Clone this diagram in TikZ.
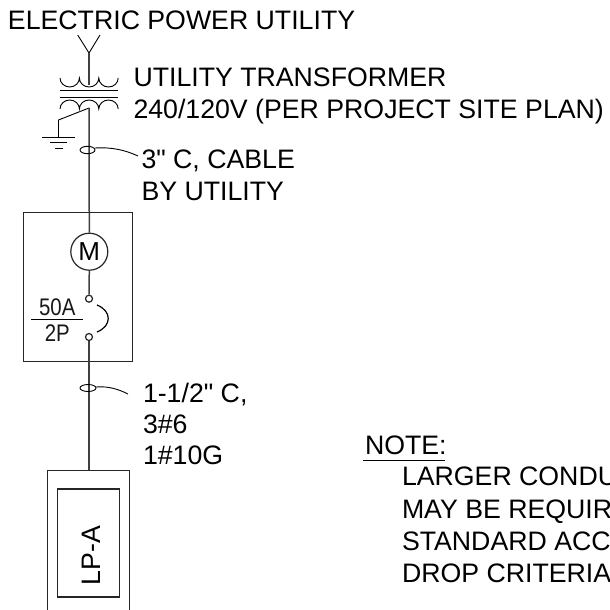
\documentclass[tikz,border=0pt]{standalone}
\usepackage{fontspec}
\setmainfont[Ligatures=TeXOff]{Liberation Sans}
\newcommand{\lbl}{\fontsize{26.7}{30}\selectfont}
\tikzset{
  wire/.style={draw=black!75,line width=1.5pt},
  thin wire/.style={draw=black,line width=0.9pt},
  box/.style={draw=black!85,line width=1.1pt},
  ring/.style={draw=black!85,line width=1.2pt,circle,inner sep=0pt},
  txt/.style={anchor=base west,inner sep=0pt,outer sep=0pt,font=\lbl,text=black},
  frac/.style={anchor=base,inner sep=0pt,font=\fontsize{24}{26}\selectfont,xscale=.85,text=black!90},
}
\begin{document}
\begin{tikzpicture}[x=1pt,y=-1pt]
\useasboundingbox (0,0) rectangle (610,610);
\clip (0,0) rectangle (610,610);
\fill[white] (0,0) rectangle (610,610);
% coordinates
\coordinate (ya) at (77.7,35); \coordinate (yb) at (100,35); \coordinate (yj) at (89,53);
\coordinate (tc) at (89,108);
\coordinate (gk) at (58.5,120); \coordinate (gn) at (58.5,137);
% service
\draw[thin wire] (ya) -- (yj) -- (yb);
\draw[wire] (yj) -- (89,85);
% upper coil
\draw[thin wire] (60,78) arc[start angle=180,end angle=0,x radius=9.7,y radius=9]
  arc[start angle=180,end angle=0,x radius=9.7,y radius=9]
  arc[start angle=180,end angle=0,x radius=9.7,y radius=9];
\draw[thin wire] (60,90.5) -- (118,90.5);
\draw[thin wire] (60,97) -- (118,97);
% lower coil
\draw[thin wire] (60,109) arc[start angle=180,end angle=360,x radius=9.7,y radius=9]
  arc[start angle=180,end angle=360,x radius=9.7,y radius=9]
  arc[start angle=180,end angle=360,x radius=9.7,y radius=9];
% ground
\draw[thin wire] (tc) -- (gk) -- (gn);
\draw[thin wire] (42,137) -- (75,137);
\draw[thin wire] (50,142.5) -- (67,142.5);
\draw[thin wire] (55,148) -- (63,148);
% main wire
\node[ring,minimum size=37pt,font=\fontsize{26}{28}\selectfont] (m) at (89.3,251.7) {M};
\node[ring,minimum size=7pt] (c1) at (89,298.7) {};
\node[ring,minimum size=7pt] (c2) at (89,337) {};
\draw[wire] (tc) -- (m.north);
\draw[wire] (m.south) -- (c1.north);
% breaker box
\draw[box] (23.5,212.7) rectangle (132.5,361.7);
\draw[wire] (c2.south) -- (89,470.7);
\draw[draw=black,line width=1.2pt] (97,305) .. controls (112,311) and (112,326) .. (97,332);
\draw[thin wire] (31,319) -- (83,319);
\node[frac] (fa) at (57.3,315) {50A};
\node[frac] (fb) at (57.3,341.7) {2P};
% cable marks
\draw[thin wire] (87.5,150) ellipse[x radius=7.5,y radius=3.7];
\draw[thin wire] (95,148) .. controls (112,147) and (125,150) .. (138,156);
\draw[thin wire] (88,388) ellipse[x radius=8,y radius=3.5];
\draw[thin wire] (96,387) .. controls (108,386) and (118,389) .. (128,394);
% panel
\draw[box] (47.3,612) -- (47.3,470.7) -- (129.7,470.7) -- (129.7,612);
\draw[box] (57.3,489) rectangle (119.7,597);
\node[rotate=90,anchor=base,inner sep=0pt,font=\lbl,text=black] (lp) at (100.7,555.7) {LP-A};
% text
\node[txt] (t0) at (8,30) {ELECTRIC POWER UTILITY};
\node[txt] (t1) at (133.5,86) {UTILITY TRANSFORMER};
\node[txt] (t2) at (133.5,118.3) {240/120V (PER PROJECT SITE PLAN)};
\node[txt] (t3) at (141.5,168.3) {3" C, CABLE};
\node[txt] (t4) at (141.5,200) {BY UTILITY};
\node[txt] (t5) at (143,402) {1-1/2" C,};
\node[txt] (t6) at (143,433) {3\#6};
\node[txt] (t7) at (143,464.5) {1\#10G};
\node[txt] (n0) at (365,454) {NOTE:};
\draw[thin wire] (363,460) -- (445,460);
\node[txt] (n1) at (402,485.5) {LARGER CONDU};
\node[txt] (n2) at (402,518) {MAY BE REQUIR};
\node[txt] (n3) at (402,550) {STANDARD ACC};
\node[txt] (n4) at (402,582.5) {DROP CRITERIA};
\end{tikzpicture}
\end{document}
